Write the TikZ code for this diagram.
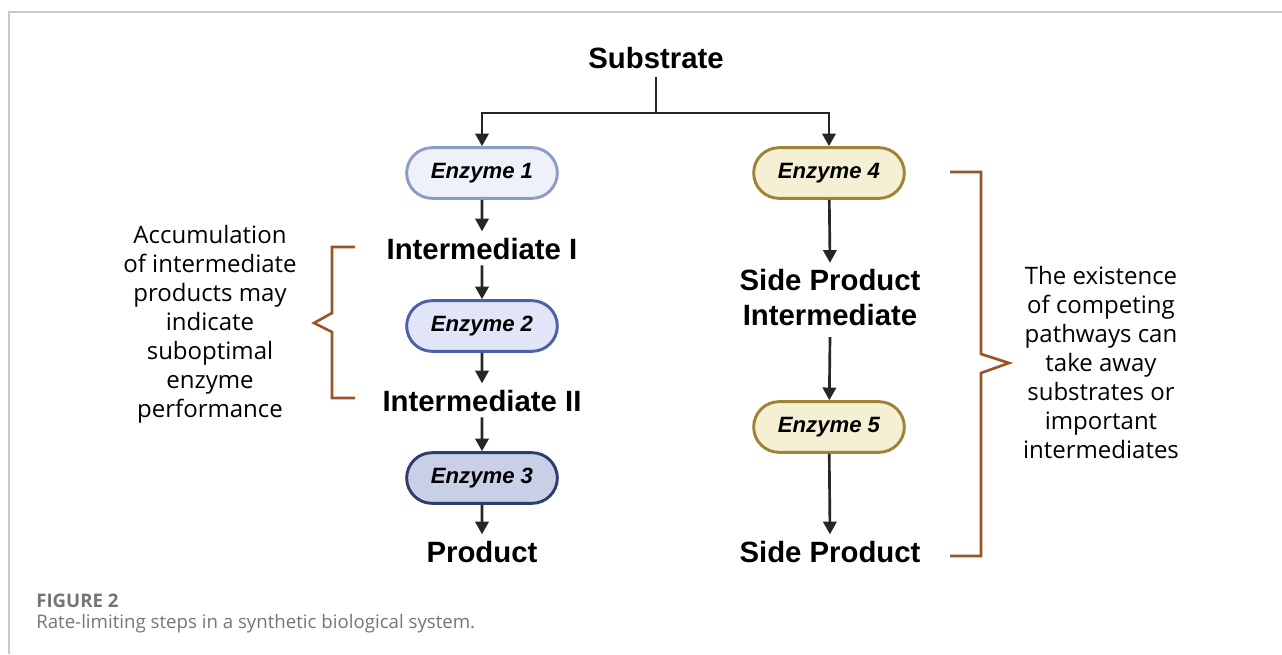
\documentclass[tikz,border=0pt]{standalone}
\usepackage{fontspec}
\setmainfont{Liberation Sans}
\newfontfamily\notefont{Open Sans}
\usetikzlibrary{shapes.misc,arrows.meta}

\definecolor{bracecol}{HTML}{9A5527}
\definecolor{framecol}{HTML}{C8C8C8}
\definecolor{capcol}{HTML}{757575}
\definecolor{fillA}{HTML}{EEF1F9}
\definecolor{drawA}{HTML}{8B9DC3}
\definecolor{fillB}{HTML}{E2E5F7}
\definecolor{drawB}{HTML}{5060A8}
\definecolor{fillC}{HTML}{C9CFE6}
\definecolor{drawC}{HTML}{2F3D6B}
\definecolor{fillD}{HTML}{F5EFD3}
\definecolor{drawD}{HTML}{9E8435}

\begin{document}
\begin{tikzpicture}[x=0.75pt,y=-0.75pt,
  lbl/.style={font=\bfseries\fontsize{22}{26.25}\selectfont, inner sep=0pt, align=center},
  enz/.style={rounded rectangle, minimum width=113pt, minimum height=38pt,
    line width=2.2pt, inner sep=0pt,
    font=\bfseries\itshape\fontsize{16.6}{20}\selectfont},
  enzA/.style={enz, fill=fillA, draw=drawA},
  enzB/.style={enz, fill=fillB, draw=drawB},
  enzC/.style={enz, fill=fillC, draw=drawC},
  enzD/.style={enz, fill=fillD, draw=drawD},
  wire/.style={line width=2pt, draw=black!85},
  flow/.style={wire, -{Triangle[length=9.5pt,width=10pt]}},
  brace/.style={line width=2pt, draw=bracecol, line join=miter},
  note/.style={font=\notefont\fontsize{18}{21.75}\selectfont, align=center, inner sep=0pt},
  captext/.style={anchor=west, inner sep=0pt, text=capcol}
]
\useasboundingbox (0,0) rectangle (1282,654);

% frame
\draw[framecol, line width=1.5pt] (9,654) -- (9,12) -- (1282,12);

% main pathway
\node[lbl] (sub) at (656,58) {Substrate};
\coordinate (split) at (656,113);
\node[enzA] (e1) at (482,173) {Enzyme 1};
\node[lbl] (i1) at (482,249) {Intermediate I};
\node[enzB] (e2) at (482,326) {Enzyme 2};
\node[lbl] (i2) at (482,401) {Intermediate II};
\node[enzC] (e3) at (482,478) {Enzyme 3};
\node[lbl] (prod) at (482,552) {Product};

% side pathway
\node[enzD] (e4) at (829,173) {Enzyme 4};
\node[lbl] (spi) at (830,298) {Side Product\\Intermediate};
\node[enzD] (e5) at (829,427) {Enzyme 5};
\node[lbl] (sp) at (830,552) {Side Product};

% connectors
\draw[wire] (sub.south) ++(0,-6pt) -- (split);
\draw[flow] (split) -| (e1.north);
\draw[flow] (split) -| (e4.north);
\draw[flow] (e1) -- ([yshift=5pt]i1.north);
\draw[flow] ([yshift=-4pt]i1.south) -- (e2);
\draw[flow] (e2) -- ([yshift=5pt]i2.north);
\draw[flow] ([yshift=-4pt]i2.south) -- (e3);
\draw[flow] (e3) -- ([yshift=5pt]prod.north);
\draw[flow] (e4) -- ([yshift=5pt]spi.north);
\draw[flow] ([yshift=-8pt]spi.south) -- (e5);
\draw[flow] (e5) -- ([yshift=5pt]sp.north);

% brackets
\draw[brace] (355,247) -- (332,247) -- (332,313) -- (314,323) -- (332,332) -- (332,398) -- (355,398);
\draw[brace] (950,172) -- (981,172) -- (981,354) -- (1009,363) -- (981,373) -- (981,556) -- (950,556);

% notes
\node[note] (nl) at (210,324) {Accumulation\\of intermediate\\products may\\indicate\\suboptimal\\enzyme\\performance};
\node[note] (nr) at (1101,362) {The existence\\of competing\\pathways can\\take away\\substrates or\\important\\intermediates};

% caption
\node[captext, font=\notefont\bfseries\fontsize{14}{16}\selectfont] (fig) at (36,601) {FIGURE 2};
\node[captext, font=\notefont\fontsize{14}{16}\selectfont] (capt) at (36,624) {Rate-limiting steps in a synthetic biological system.};
\end{tikzpicture}
\end{document}
